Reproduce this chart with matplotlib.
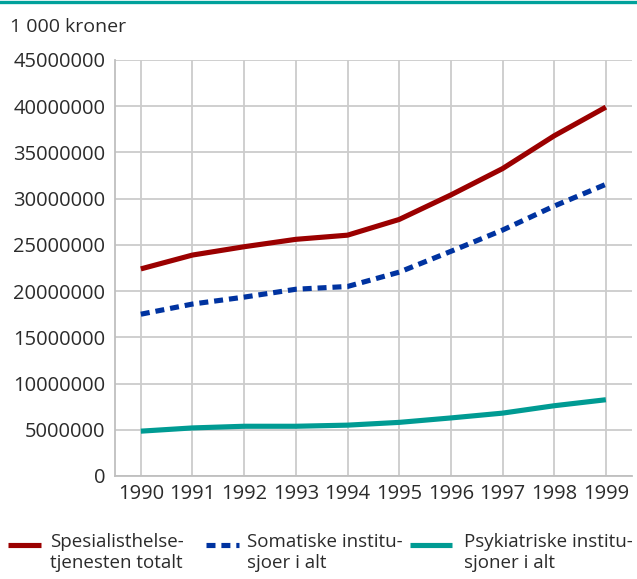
import matplotlib
matplotlib.use("Agg")
import matplotlib.pyplot as plt
from matplotlib.lines import Line2D
from matplotlib.ticker import FixedLocator

years = [1990, 1991, 1992, 1993, 1994, 1995, 1996, 1997, 1998, 1999]
spesialist = [22.4, 23.9, 24.8, 25.6, 26.05, 27.75, 30.4, 33.25, 36.8, 39.9]
somatiske = [17.5, 18.6, 19.35, 20.2, 20.5, 22.05, 24.3, 26.6, 29.2, 31.55]
psykiatriske = [4.85, 5.2, 5.38, 5.38, 5.5, 5.8, 6.28, 6.8, 7.6, 8.25]
labels = ["Spesialisthelse-\ntjenesten totalt", "Somatiske institu-\nsjoer i alt", "Psykiatriske institu-\nsjoner i alt"]
yticks = [0, 5000000, 10000000, 15000000, 20000000, 25000000, 30000000, 35000000, 40000000, 45000000]
unit_label = "1 000 kroner"

RED = "#9b0000"
BLUE = "#0033a0"
TEAL = "#009b93"
GRID = "#cccccc"
TXT = "#2b2b2b"

plt.rcParams['font.family'] = ['Open Sans', 'DejaVu Sans']
FS = 13.5
FS_TICK = 14.5

fig = plt.figure(figsize=(6.37, 5.79), dpi=100)
ax = fig.add_axes([0.1805, 0.1779, 0.8112, 0.7185])

scale = 1_000_000
ax.plot(years, [v * scale for v in spesialist], color=RED, lw=3.7, solid_capstyle='butt', zorder=3)
ax.plot(years, [v * scale for v in somatiske], color=BLUE, lw=3.7, dashes=(1.75, 1.15), dash_capstyle='butt', zorder=3)
ax.plot(years, [v * scale for v in psykiatriske], color=TEAL, lw=3.7, solid_capstyle='butt', zorder=3)

ax.set_xlim(1989.5, 1999.5)
ax.set_ylim(0, 45000000)
ax.xaxis.set_major_locator(FixedLocator(years))
ax.set_xticklabels([str(y) for y in years])
ax.yaxis.set_major_locator(FixedLocator(yticks))
ax.set_yticklabels([str(t) for t in yticks])
ax.tick_params(axis='both', length=0, labelsize=FS_TICK, labelcolor=TXT)
ax.tick_params(axis='y', pad=7)
ax.tick_params(axis='x', pad=6)
ax.grid(True, color=GRID, lw=1.3, zorder=0)
ax.set_axisbelow(True)
for s in ['top', 'right']:
    ax.spines[s].set_visible(False)
for s in ['left', 'bottom']:
    ax.spines[s].set_color("#bfbfbf")
    ax.spines[s].set_linewidth(1.3)

# top teal bar
fig.add_artist(Line2D([0, 1], [1 - 1.5 / 579, 1 - 1.5 / 579], transform=fig.transFigure, color="#00a19b", lw=2.4))

fig.text(10 / 637, 1 - 27 / 579, unit_label, fontsize=14, color=TXT, va='center', ha='left')

# legend (manual)
colors = [RED, BLUE, TEAL]
handle_x = [(8, 41), (206, 239), (410, 452)]
text_x = [50, 247, 464]
y1 = 1 - 545 / 579
for i in range(3):
    x0, x1 = handle_x[i]
    kw = dict(color=colors[i], lw=3.7, transform=fig.transFigure)
    if i == 1:
        kw.update(dashes=(1.75, 1.15), dash_capstyle='butt')
    else:
        kw.update(solid_capstyle='butt')
    fig.add_artist(Line2D([x0 / 637, x1 / 637], [y1, y1], **kw))
    fig.text(text_x[i] / 637, 1 - 533 / 579, labels[i], fontsize=FS, color=TXT,
             va='top', ha='left', linespacing=1.25)

fig.savefig("out.png", dpi=100)
